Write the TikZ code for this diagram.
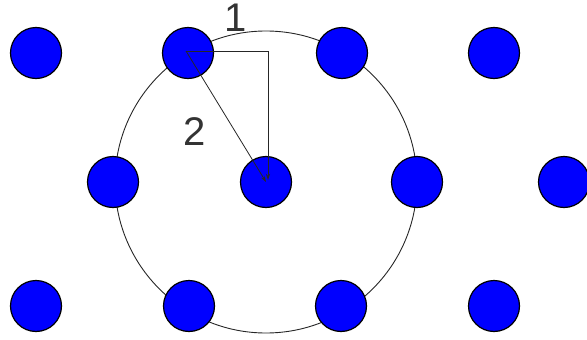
\documentclass[tikz,border=0pt]{standalone}
\usepackage{fontspec}
\setmainfont{Liberation Sans}
\usetikzlibrary{arrows.meta}
\begin{document}
\begin{tikzpicture}[x=1pt,y=-1pt,
  dot/.style={circle,fill=blue,draw=black,line width=1.2pt,minimum size=51pt,inner sep=0pt},
  ring/.style={circle,draw=black!85,line width=0.9pt,minimum size=302pt,inner sep=0pt},
  conn/.style={draw=black!85,line width=0.8pt,-{Stealth[length=6pt,width=4pt]}},
  lbl/.style={font=\fontsize{40}{40}\selectfont,text=black!80,inner sep=0pt}]
\useasboundingbox (0,0) rectangle (587,340);
\node[ring] (ring) at (266,182) {};
\node[dot] (a1) at (36,53) {};
\node[dot] (a2) at (188,53) {};
\node[dot] (a3) at (342,53) {};
\node[dot] (a4) at (494,53) {};
\node[dot] (b1) at (113,182) {};
\node[dot] (b2) at (266,182) {};
\node[dot] (b3) at (417,182) {};
\node[dot] (b4) at (564,182) {};
\node[dot] (c1) at (36,306) {};
\node[dot] (c2) at (189,306) {};
\node[dot] (c3) at (341,306) {};
\node[dot] (c4) at (494,306) {};
\coordinate (corner) at (268,51);
\coordinate (start) at (186,51);
\coordinate (endv) at (268,180);
\draw[conn] (start) -- (corner) -- (endv);
\draw[conn] (start) -- (b2.center);
\node[lbl] (l1) at (236,18) {1};
\node[lbl] (l2) at (195,132) {2};
\end{tikzpicture}
\end{document}
